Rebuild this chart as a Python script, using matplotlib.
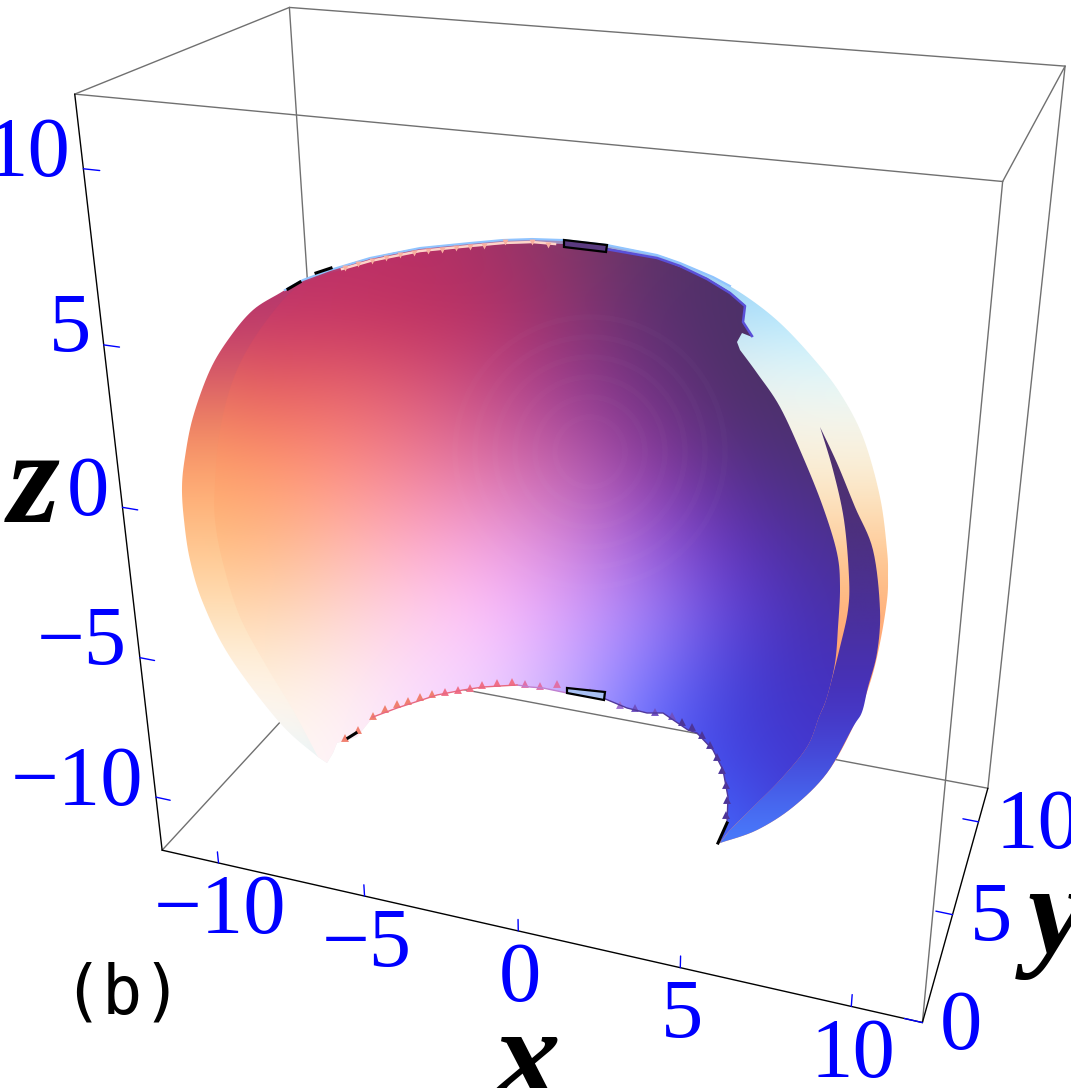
import numpy as np
from matplotlib import pyplot as plt
from matplotlib.colors import to_rgb
from matplotlib.patches import Polygon, Circle

plt.rcParams['font.family'] = ['Liberation Serif', 'DejaVu Serif']

############################################
############## picture values ##############
############################################
# box limits and where its corners land in the picture
x_lim = [-12, 12]
y_lim = [0, 12]
z_lim = [-12, 12]
corner_world = [(-12, 0, -12), (12, 0, -12), (12, 12, -12), (-12, 12, -12),
                (-12, 0, 12), (12, 0, 12), (12, 12, 12), (-12, 12, 12)]
corner_px = [(162, 851), (922, 1022), (988, 789), (333, 664),
             (75, 95), (1003, 180), (1065, 67), (289, 7)]

x_ticks = [-10, -5, 0, 5, 10]
y_ticks = [0, 5, 10]
z_ticks = [-10, -5, 0, 5, 10]
x_labels = ['\u221210', '\u22125', '0', '5', '10']
y_labels = ['0', '5', '10']
z_labels = ['\u221210', '\u22125', '0', '5', '10']

# surface outlines, picture pixels
outer_edge = [(318, 757), (280, 723), (230, 657), (203, 603), (190, 560), (184, 520), (182, 487),
              (185, 457), (193, 417), (210, 370), (230, 337), (253, 310), (280, 293), (303, 280),
              (330, 270), (370, 258), (420, 248), (470, 243), (503, 240), (532, 239), (563, 240),
              (607, 245), (657, 255), (680, 263), (713, 277), (747, 297), (780, 323), (813, 358),
              (840, 393), (863, 437), (880, 497), (887, 550), (888, 575), (887, 600), (880, 643),
              (870, 683), (853, 727), (827, 773), (793, 807), (757, 830), (723, 842), (718, 843)]
bottom_edge = [(727, 823), (728, 797), (723, 770), (713, 750), (697, 733), (688, 730), (663, 713),
               (647, 713), (627, 708), (603, 698), (567, 693), (543, 688), (530, 687), (517, 685),
               (483, 687), (463, 690), (437, 695), (397, 708), (373, 717), (357, 737), (337, 743),
               (333, 753), (327, 763)]
main_left = [(318, 757), (293, 710), (267, 667), (240, 617), (223, 563), (215, 520), (215, 483),
             (220, 430), (233, 380), (253, 340), (283, 300), (303, 283)]
main_top = [(330, 273), (370, 262), (420, 252), (470, 247), (503, 244), (532, 243), (563, 244),
            (607, 248), (657, 258), (680, 267), (707, 278), (730, 292), (745, 305), (743, 322),
            (752, 337), (742, 333), (737, 342), (740, 350)]
main_right = [(740, 350), (757, 373), (780, 407), (803, 457), (823, 507), (837, 553), (840, 587),
              (838, 627), (835, 663), (827, 697), (819, 717), (807, 747), (780, 780), (753, 807),
              (730, 830), (720, 843)]
sliver_in = [(820, 427), (837, 463), (855, 507), (873, 550), (880, 610), (877, 653), (868, 687),
             (862, 712), (853, 727), (827, 773), (793, 807), (757, 830), (723, 842), (720, 843)]
sliver_back = [(730, 830), (753, 807), (780, 780), (807, 747), (819, 717), (827, 697), (840, 647),
               (848, 610), (849, 577), (844, 520), (833, 470), (820, 427)]

# colours read on a grid of the picture
main_x = [180, 259, 338, 417, 496, 575, 654, 733, 812, 891]
main_y = [240, 315, 390, 465, 540, 615, 690, 765, 840]
main_colors = [
    ['#b03a70', '#b33068', '#bc3068', '#b83066', '#a03368', '#803868', '#5c3468', '#4e3068', '#4e3068', '#4e3068'],
    ['#c0406a', '#c5366a', '#c63564', '#c03060', '#b53066', '#8a3370', '#5a3070', '#4c3068', '#4c3068', '#4c3068'],
    ['#e87560', '#e8605f', '#e8656a', '#dd5a78', '#c04a88', '#9a3c92', '#6c3080', '#4d3068', '#4d3068', '#4d3068'],
    ['#ffa368', '#ff9868', '#ff8f80', '#f08098', '#dc70a8', '#bc60ae', '#8c38a0', '#543088', '#4c3078', '#4c3070'],
    ['#ffc080', '#ffb880', '#ffb8a8', '#ffa8c8', '#f0a0e0', '#d080d8', '#9858d8', '#5e30b8', '#4c3098', '#4c3088'],
    ['#ffe0b8', '#ffd8b0', '#ffd8d0', '#ffd0ee', '#ffc0ff', '#d8a0ff', '#a080fa', '#5c40d8', '#4830b0', '#4a30a0'],
    ['#fff4e0', '#fff4e0', '#fff0f0', '#fcdcff', '#f0d0ff', '#c0a8ff', '#7070ff', '#4040d8', '#4430c0', '#4430c0'],
    ['#fffaf4', '#fffaf4', '#fff5f8', '#f8e0ff', '#e0c8ff', '#a8a0ff', '#5060ff', '#4040e0', '#4438d0', '#4438d0'],
    ['#fffaf4', '#fffaf4', '#fff5f8', '#f8e0ff', '#e0c8ff', '#a8a0ff', '#5060ff', '#4070ff', '#4438d0', '#4438d0'],
]
shell_y = [240, 300, 360, 420, 480, 540, 600, 660, 720, 780, 840]
shell_left = ['#b03a70', '#b83268', '#d0506a', '#ee8062', '#ffa870', '#ffc48c', '#ffdcb0',
              '#fff0dc', '#fdf8f4', '#e0f8ff', '#e0f8ff']
shell_right = ['#90d0ff', '#a8e4ff', '#dcf6fb', '#f6f6ee', '#fbeccf', '#ffd0a0', '#ffb880',
               '#ffa070', '#ff9060', '#ff9060', '#ff9060']
sliver_y = [420, 500, 580, 650, 720, 780, 840]
sliver_colors = ['#4e3070', '#4e3070', '#4c3088', '#4a30a0', '#4630c0', '#4550e0', '#4a80ff']

# small saw teeth along the lower cut and the top rim
tooth_x = [345, 358, 373, 385, 397, 408, 420, 432, 445, 458, 470, 482, 497, 512, 525, 540, 557, 590,
           620, 635, 655, 672, 682, 692, 702, 710, 717, 722, 726, 727, 726]
tooth_y = [738, 730, 716, 709, 704, 701, 697, 694, 692, 690, 688, 685, 683, 682, 684, 686, 684, 692,
           705, 708, 712, 716, 722, 727, 735, 745, 757, 770, 785, 800, 815]
tooth_colors = ['#f08070'] * 8 + ['#f07088'] * 6 + ['#e070a8'] * 3 + ['#a070d0'] * 2 + ['#7050c0'] * 3 + ['#4c3498'] * 9
top_tooth_x = [345, 358, 372, 386, 400, 414, 428, 442, 456, 470, 484, 505, 532, 548]
top_tooth_y = [268, 264, 261, 258, 255, 253, 251, 250, 248, 247, 246, 242, 242, 245]

top_rim = [(285, 290), (303, 280), (330, 270), (370, 258), (420, 248), (470, 243), (503, 240),
           (532, 239), (563, 240), (607, 245), (657, 255), (680, 263), (713, 277), (730, 286)]
pink_rim = [(342, 269), (370, 261), (420, 251), (470, 246), (503, 243), (532, 242), (555, 244)]
blue_cut = [(600, 248), (657, 258), (680, 266), (707, 279), (730, 293), (745, 306), (743, 322), (752, 336)]

top_box = [(564, 240), (607, 245), (606, 252), (564, 247)]
low_box = [(567, 688), (605, 692), (604, 700), (567, 693)]
black_marks = [[(288, 289), (300, 282)], [(316, 273), (331, 268)], [(348, 738), (356, 733)],
               [(718, 843), (727, 823)]]
ring_radii = [35, 55, 75, 95, 115, 135]


############################################
############ camera and helpers ############
############################################
def fitCamera(world, px):
    A = []
    b = []
    for (wx, wy, wz), (u, v) in zip(world, px):
        A.append([wx, wy, wz, 1, 0, 0, 0, 0, -u * wx, -u * wy, -u * wz])
        A.append([0, 0, 0, 0, wx, wy, wz, 1, -v * wx, -v * wy, -v * wz])
        b += [u, v]
    sol = np.linalg.lstsq(np.array(A, dtype=float), np.array(b, dtype=float), rcond=None)[0]
    return np.append(sol, 1.0).reshape(3, 4)


cam = fitCamera(corner_world, corner_px)


def project(wx, wy, wz):
    p = cam @ np.array([wx, wy, wz, 1.0])
    return p[0] / p[2], p[1] / p[2]


def edge(p, q, color, lw):
    a = project(*p)
    b = project(*q)
    ax.plot([a[0], b[0]], [a[1], b[1]], color=color, lw=lw, solid_capstyle='round', zorder=1)


# rounds an outline through its points (catmull-rom)
def rounded(pts, steps=8):
    P = np.array(pts, dtype=float)
    P = np.vstack([P[0], P, P[-1]])
    out = []
    for i in range(1, len(P) - 2):
        for t in np.linspace(0, 1, steps, endpoint=False):
            out.append(0.5 * (2 * P[i] + (P[i + 1] - P[i - 1]) * t
                              + (2 * P[i - 1] - 5 * P[i] + 4 * P[i + 1] - P[i + 2]) * t ** 2
                              + (3 * P[i] - P[i - 1] - 3 * P[i + 1] + P[i + 2]) * t ** 3))
    out.append(P[-1])
    return [tuple(p) for p in out]


def colorImage(rows, xs, ys, poly, z):
    rgb = np.array([[to_rgb(c) for c in row] for row in rows])
    dx = (xs[-1] - xs[0]) / max(len(xs) - 1, 1) / 2
    dy = (ys[-1] - ys[0]) / (len(ys) - 1) / 2
    im = ax.imshow(rgb, extent=(xs[0] - dx, xs[-1] + dx, ys[-1] + dy, ys[0] - dy),
                   origin='upper', interpolation='bicubic', aspect='auto', zorder=z)
    patch = Polygon(poly, closed=True, fc='none', ec='none', transform=ax.transData)
    ax.add_patch(patch)
    im.set_clip_path(patch)
    return patch


############################################
################## figure ##################
############################################
fig = plt.figure(figsize=(10.71, 10.88), dpi=100)
ax = fig.add_axes([0, 0, 1, 1])

# far and grey box edges first, surface on top
x0, x1 = x_lim
y0, y1 = y_lim
z0, z1 = z_lim
grey = '#707070'
for p, q in [((x0, y0, z1), (x1, y0, z1)), ((x0, y1, z1), (x1, y1, z1)), ((x0, y0, z1), (x0, y1, z1)),
             ((x1, y0, z1), (x1, y1, z1)), ((x0, y1, z0), (x0, y1, z1)), ((x1, y1, z0), (x1, y1, z1)),
             ((x1, y0, z0), (x1, y0, z1)), ((x0, y0, z0), (x0, y1, z0)), ((x0, y1, z0), (x1, y1, z0))]:
    edge(p, q, grey, 1.0)
for p, q in [((x0, y0, z0), (x0, y0, z1)), ((x0, y0, z0), (x1, y0, z0)), ((x1, y0, z0), (x1, y1, z0))]:
    edge(p, q, 'black', 1.0)

for t in x_ticks:
    edge((t, y0, z0), (t, y0, z0 + 0.42), '#0000ff', 1.0)
for t in y_ticks:
    edge((x1, t, z0), (x1 - 0.5, t, z0), '#0000ff', 1.0)
for t in z_ticks:
    edge((x0, y0, t), (x0 + 0.5, y0, t), '#0000ff', 1.0)

# outer shell, then the dark sliver, then the main sheet
outer_poly = rounded(outer_edge) + bottom_edge
shell_rows = [[a, a, b, b] for a, b in zip(shell_left, shell_right)]
colorImage(shell_rows, [180, 420, 660, 890], shell_y, outer_poly, 2)

sliver_rows = [[c, c] for c in sliver_colors]
colorImage(sliver_rows, [700, 900], sliver_y, rounded(sliver_in) + rounded(sliver_back), 3)

main_poly = rounded(main_left) + main_top + rounded(main_right) + bottom_edge
main_patch = colorImage(main_colors, main_x, main_y, main_poly, 4)

# faint rings in the middle of the sheet
for r in ring_radii:
    ring = Circle((590, 452), r, fc='none', ec='white', lw=4, alpha=0.014, zorder=4.5)
    ax.add_patch(ring)
    ring.set_clip_path(main_patch)

# rims on the cut edges
ax.plot(*zip(*top_rim), color='#90c4ff', lw=1.5, zorder=5)
ax.plot(*zip(*pink_rim), color='#ffd4c8', lw=1.8, zorder=5)
ax.scatter(top_tooth_x, top_tooth_y, marker='v', s=18, c='#f8b0a0', linewidths=0, zorder=5)
ax.plot(*zip(*blue_cut), color='#5a50d8', lw=1.8, zorder=5)
ax.scatter(tooth_x, tooth_y, marker='^', s=32, c=tooth_colors, linewidths=0, zorder=5)
ax.plot(*zip(*bottom_edge[:10]), color='#50389c', lw=1.0, zorder=5)
ax.plot(*zip(*bottom_edge[9:14]), color='#c080d0', lw=1.0, zorder=5)
ax.plot(*zip(*bottom_edge[13:19]), color='#e86880', lw=1.0, zorder=5)

for box, fc in [(top_box, '#5a3a80'), (low_box, '#a8c0f4')]:
    ax.add_patch(Polygon(box, closed=True, fc=fc, ec='black', lw=1.6, zorder=6))
for seg in black_marks:
    ax.plot(*zip(*seg), color='black', lw=2.2, zorder=6)

# tick labels
blue = '#0000ff'
for t, s in zip(x_ticks, x_labels):
    u, v = project(t, y0, z0)
    ax.text(u + 2, v + 50, s, color=blue, fontsize=61, ha='center', va='center', zorder=7)
for t, s in zip(y_ticks, y_labels):
    u, v = project(x1, t, z0)
    ax.text(u + 17, v + 6, s, color=blue, fontsize=61, ha='left', va='center', zorder=7)
for t, s in zip(z_ticks, z_labels):
    u, v = project(x0, y0, t)
    ax.text(u - 13, v - 13, s, color=blue, fontsize=61, ha='right', va='center', zorder=7)

# axis names and panel mark
ax.text(527, 1066, 'x', fontsize=96, fontweight='bold', fontstyle='italic', ha='center', va='center', zorder=7)
ax.text(1056, 922, 'y', fontsize=92, fontweight='bold', fontstyle='italic', ha='center', va='center', zorder=7)
ax.text(34, 489, 'z', fontsize=96, fontweight='bold', fontstyle='italic', ha='center', va='center', zorder=7)
ax.text(122, 994, '(b)', fontsize=48, family=['DejaVu Sans Mono'], ha='center', va='center', zorder=7)

ax.set_xlim(0, 1071)
ax.set_ylim(1088, 0)
ax.axis('off')
fig.savefig('out.png', dpi=100, facecolor='white')
